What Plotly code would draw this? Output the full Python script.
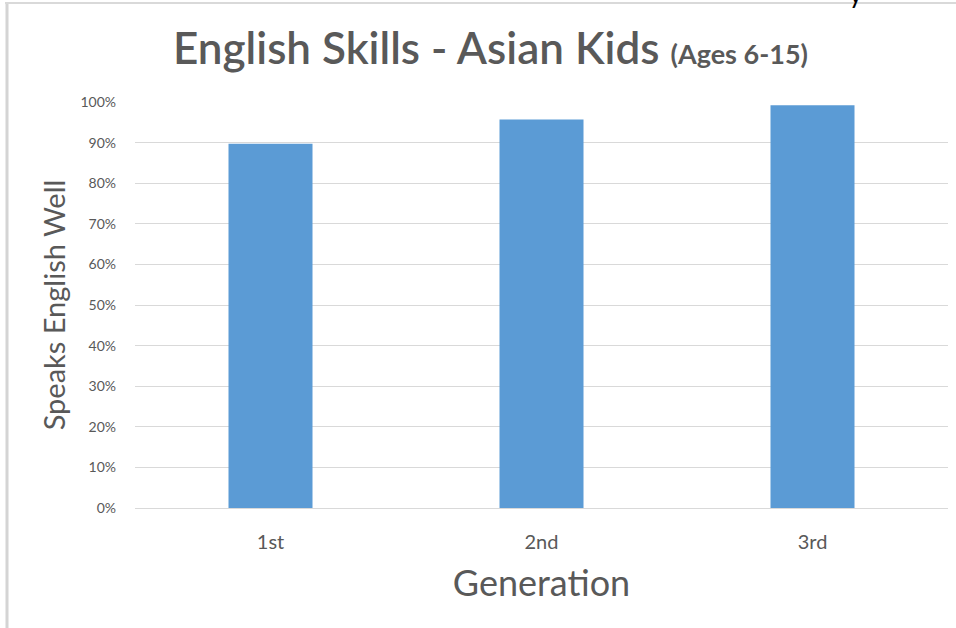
import plotly.graph_objects as go

generations = ["1st", "2nd", "3rd"]
speaks_well = [0.897, 0.957, 0.992]
y_ticks = [0, 0.1, 0.2, 0.3, 0.4, 0.5, 0.6, 0.7, 0.8, 0.9, 1.0]

FONT = "Lato"
GRAY = "#595959"

fig = go.Figure()
fig.add_trace(go.Bar(
    x=generations, y=speaks_well,
    marker=dict(color="#5b9bd5", line=dict(width=0)),
    width=0.31,
))

W, H = 956, 628
ml, mr, mt, mb = 135, 8, 102, 120
pw, ph = W - ml - mr, H - mt - mb

def px_x(p):
    return (p - ml) / pw

def px_y(p):
    return (H - mb - p) / ph

fig.update_layout(
    width=W, height=H,
    margin=dict(l=ml, r=mr, t=mt, b=mb),
    paper_bgcolor="white", plot_bgcolor="white",
    showlegend=False,
    font=dict(family=FONT, color=GRAY),
    title=dict(
        text="English Skills - Asian Kids <span style='font-size:27px;font-weight:bold'>(Ages 6-15)</span>",
        x=173 / W, xref="container", xanchor="left",
        y=1 - 49 / H, yanchor="middle",
        font=dict(family=FONT, size=44, color=GRAY, weight=600),
    ),
    xaxis=dict(
        showgrid=False, showline=False, zeroline=False,
        tickfont=dict(family=FONT, size=20, color=GRAY),
        ticks="", ticklabelstandoff=20,
        title=dict(text="Generation", font=dict(family=FONT, size=36, color=GRAY), standoff=18),
    ),
    yaxis=dict(
        range=[0, 1.0], tickvals=y_ticks, tickformat=".0%",
        showgrid=True, gridcolor="#d9d9d9", gridwidth=1,
        zeroline=True, zerolinecolor="#d9d9d9", zerolinewidth=1,
        showline=False, ticks="", ticklabelstandoff=18,
        tickfont=dict(family=FONT, size=14, color=GRAY),
        title=dict(text="Speaks English Well", font=dict(family=FONT, size=29, color=GRAY), standoff=6),
    ),
)

# frame lines around the chart image
fig.add_shape(type="line", xref="paper", yref="paper",
              x0=px_x(7), x1=px_x(7), y0=px_y(3), y1=px_y(640),
              line=dict(color="#d4d4d4", width=3))
fig.add_shape(type="line", xref="paper", yref="paper",
              x0=px_x(5), x1=px_x(960), y0=px_y(3), y1=px_y(3),
              line=dict(color="#d9d9d9", width=2))
fig.add_annotation(text="y", xref="paper", yref="paper",
                   x=px_x(856), y=px_y(11), xanchor="center", yanchor="bottom",
                   showarrow=False, font=dict(family=FONT, size=26, color="black"))

fig.write_html("out.html", config={"displayModeBar": False},
               post_script="document.body.style.margin='0';document.body.style.padding='0';")
